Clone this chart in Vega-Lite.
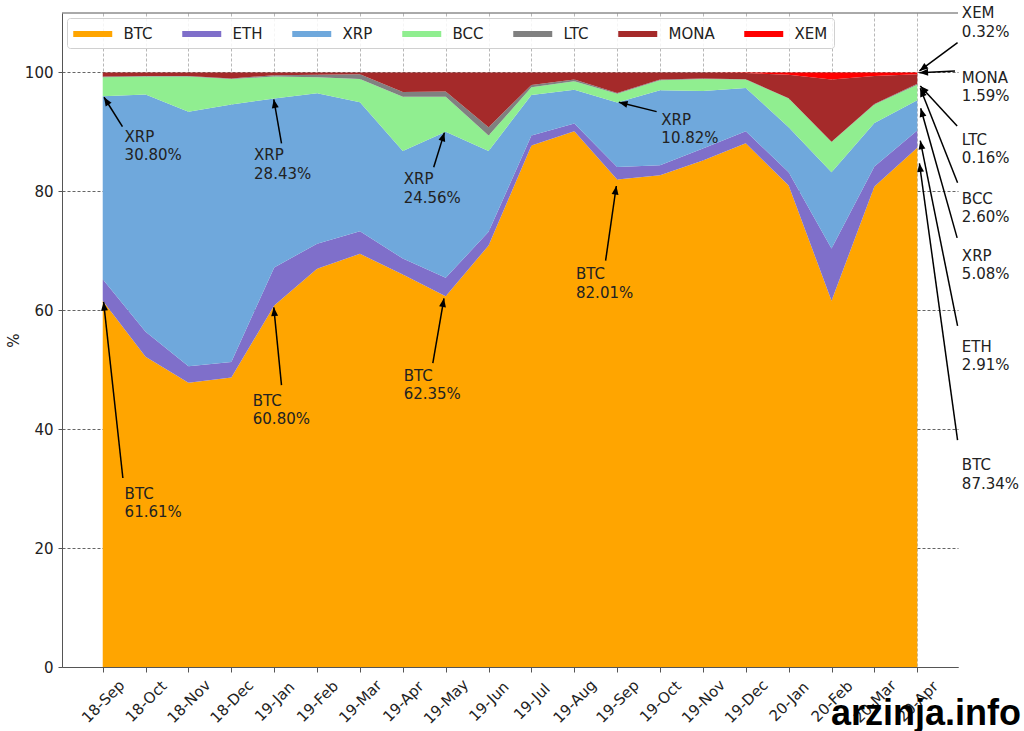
{
  "$schema": "https://vega.github.io/schema/vega-lite/v6.json",
  "width": 896,
  "height": 654,
  "autosize": {"type": "none"},
  "padding": {"left": 62, "top": 13, "right": 66, "bottom": 64},
  "background": "white",
  "config": {
    "font": "DejaVu Sans",
    "view": {"stroke": null},
    "axis": {
      "zindex": 1,
      "domainColor": "#555",
      "tickColor": "#555",
      "labelColor": "#222",
      "labelFontSize": 15,
      "titleFontSize": 15,
      "titleFontWeight": "normal",
      "titleColor": "#222",
      "gridDash": [3, 2],
      "gridWidth": 0.7
    },
    "legend": {
      "orient": "top-left",
      "direction": "horizontal",
      "offset": 5,
      "padding": 6,
      "fillColor": "rgba(255,255,255,0.85)",
      "strokeColor": "#d0d0d0",
      "cornerRadius": 3,
      "labelFontSize": 15,
      "labelColor": "#222",
      "columnPadding": 29,
      "labelOffset": 30.5,
      "symbolType": "M-1,-0.3L3,-0.3L3,0.3L-1,0.3Z",
      "symbolSize": 380,
      "symbolStrokeWidth": 0,
      "zindex": 2
    }
  },
  "datasets": {
    "share": [
      {"i": 0, "month": "18-Sep", "BTC": 61.61, "ETH": 3.6, "XRP": 30.80, "BCC": 3.2, "LTC": 0.1, "MONA": 0.69, "XEM": 0},
      {"i": 1, "month": "18-Oct", "BTC": 52.2, "ETH": 4.2, "XRP": 39.9, "BCC": 3.0, "LTC": 0.1, "MONA": 0.6, "XEM": 0},
      {"i": 2, "month": "18-Nov", "BTC": 47.8, "ETH": 2.8, "XRP": 42.8, "BCC": 5.9, "LTC": 0.1, "MONA": 0.6, "XEM": 0},
      {"i": 3, "month": "18-Dec", "BTC": 48.7, "ETH": 2.6, "XRP": 43.3, "BCC": 4.3, "LTC": 0.1, "MONA": 1.0, "XEM": 0},
      {"i": 4, "month": "19-Jan", "BTC": 60.80, "ETH": 6.4, "XRP": 28.43, "BCC": 3.7, "LTC": 0.2, "MONA": 0.47, "XEM": 0},
      {"i": 5, "month": "19-Feb", "BTC": 67.0, "ETH": 4.2, "XRP": 25.3, "BCC": 2.7, "LTC": 0.4, "MONA": 0.4, "XEM": 0},
      {"i": 6, "month": "19-Mar", "BTC": 69.5, "ETH": 3.8, "XRP": 21.7, "BCC": 3.9, "LTC": 0.8, "MONA": 0.3, "XEM": 0},
      {"i": 7, "month": "19-Apr", "BTC": 66.0, "ETH": 2.7, "XRP": 18.1, "BCC": 9.1, "LTC": 0.8, "MONA": 3.3, "XEM": 0},
      {"i": 8, "month": "19-May", "BTC": 62.35, "ETH": 3.1, "XRP": 24.56, "BCC": 5.9, "LTC": 0.9, "MONA": 3.19, "XEM": 0},
      {"i": 9, "month": "19-Jun", "BTC": 70.9, "ETH": 2.3, "XRP": 13.6, "BCC": 2.6, "LTC": 1.4, "MONA": 9.2, "XEM": 0},
      {"i": 10, "month": "19-Jul", "BTC": 87.7, "ETH": 1.7, "XRP": 6.8, "BCC": 1.3, "LTC": 0.4, "MONA": 2.1, "XEM": 0},
      {"i": 11, "month": "19-Aug", "BTC": 90.1, "ETH": 1.3, "XRP": 5.7, "BCC": 1.4, "LTC": 0.3, "MONA": 1.2, "XEM": 0},
      {"i": 12, "month": "19-Sep", "BTC": 82.01, "ETH": 2.1, "XRP": 10.82, "BCC": 1.5, "LTC": 0.1, "MONA": 3.47, "XEM": 0},
      {"i": 13, "month": "19-Oct", "BTC": 82.7, "ETH": 1.7, "XRP": 12.6, "BCC": 1.7, "LTC": 0.1, "MONA": 1.2, "XEM": 0},
      {"i": 14, "month": "19-Nov", "BTC": 85.2, "ETH": 2.0, "XRP": 9.7, "BCC": 2.0, "LTC": 0.1, "MONA": 1.0, "XEM": 0},
      {"i": 15, "month": "19-Dec", "BTC": 88.1, "ETH": 2.0, "XRP": 7.3, "BCC": 1.4, "LTC": 0.05, "MONA": 1.05, "XEM": 0.1},
      {"i": 16, "month": "20-Jan", "BTC": 81.0, "ETH": 2.2, "XRP": 7.6, "BCC": 4.8, "LTC": 0.05, "MONA": 3.95, "XEM": 0.4},
      {"i": 17, "month": "20-Feb", "BTC": 61.6, "ETH": 8.8, "XRP": 12.8, "BCC": 5.1, "LTC": 0.05, "MONA": 10.45, "XEM": 1.2},
      {"i": 18, "month": "20-Mar", "BTC": 80.8, "ETH": 3.4, "XRP": 7.3, "BCC": 3.1, "LTC": 0.1, "MONA": 4.7, "XEM": 0.6},
      {"i": 19, "month": "20-Apr", "BTC": 87.34, "ETH": 2.91, "XRP": 5.08, "BCC": 2.60, "LTC": 0.16, "MONA": 1.59, "XEM": 0.32}
    ],
    "notes": [
      {"label": "XRP\n30.80%", "x": 0.03, "y": 95.83, "ax": 0.46, "ay": 90.88, "tx": 0.51, "ty": 90.33},
      {"label": "BTC\n61.61%", "x": 0.02, "y": 61.40, "ax": 0.47, "ay": 31.79, "tx": 0.51, "ty": 30.28},
      {"label": "XRP\n28.43%", "x": 3.99, "y": 95.49, "ax": 4.17, "ay": 88.09, "tx": 3.53, "ty": 87.25},
      {"label": "BTC\n60.80%", "x": 3.99, "y": 60.49, "ax": 4.17, "ay": 47.42, "tx": 3.50, "ty": 45.92},
      {"label": "XRP\n24.56%", "x": 7.97, "y": 89.88, "ax": 7.72, "ay": 84.04, "tx": 7.02, "ty": 83.21},
      {"label": "BTC\n62.35%", "x": 7.96, "y": 62.01, "ax": 7.70, "ay": 51.09, "tx": 7.02, "ty": 50.13},
      {"label": "XRP\n10.82%", "x": 12.04, "y": 95.00, "ax": 12.92, "ay": 93.41, "tx": 13.03, "ty": 93.19},
      {"label": "BTC\n82.01%", "x": 11.98, "y": 80.90, "ax": 11.73, "ay": 68.34, "tx": 11.04, "ty": 67.23},
      {"label": "XEM\n0.32%", "x": 19.05, "y": 100.25, "ax": 19.94, "ay": 105.02, "tx": 20.04, "ty": 111.13},
      {"label": "MONA\n1.59%", "x": 19.05, "y": 99.97, "ax": 19.88, "ay": 100.25, "tx": 20.04, "ty": 100.30},
      {"label": "LTC\n0.16%", "x": 19.07, "y": 97.72, "ax": 19.93, "ay": 91.00, "tx": 20.04, "ty": 89.87},
      {"label": "BCC\n2.60%", "x": 19.07, "y": 97.34, "ax": 19.94, "ay": 81.46, "tx": 20.04, "ty": 79.95},
      {"label": "XRP\n5.08%", "x": 19.08, "y": 93.97, "ax": 19.93, "ay": 72.17, "tx": 20.04, "ty": 70.31},
      {"label": "ETH\n2.91%", "x": 19.07, "y": 88.53, "ax": 19.94, "ay": 57.36, "tx": 20.04, "ty": 55.05},
      {"label": "BTC\n87.34%", "x": 19.05, "y": 84.72, "ax": 19.94, "ay": 38.17, "tx": 20.04, "ty": 35.10}
    ]
  },
  "layer": [
    {
      "data": {"name": "share"},
      "transform": [
        {"fold": ["BTC", "ETH", "XRP", "BCC", "LTC", "MONA", "XEM"], "as": ["coin", "pct"]},
        {"calculate": "indexof(['BTC', 'ETH', 'XRP', 'BCC', 'LTC', 'MONA', 'XEM'], datum.coin)", "as": "k"}
      ],
      "mark": {"type": "area", "opacity": 1},
      "encoding": {
        "x": {
          "field": "i",
          "type": "quantitative",
          "scale": {"domain": [-0.95, 19.95], "nice": false, "zero": false},
          "axis": {
            "title": null,
            "values": [0, 1, 2, 3, 4, 5, 6, 7, 8, 9, 10, 11, 12, 13, 14, 15, 16, 17, 18, 19],
            "labelExpr": "['18-Sep','18-Oct','18-Nov','18-Dec','19-Jan','19-Feb','19-Mar','19-Apr','19-May','19-Jun','19-Jul','19-Aug','19-Sep','19-Oct','19-Nov','19-Dec','20-Jan','20-Feb','20-Mar','20-Apr'][datum.value]",
            "labelAngle": -45,
            "labelAlign": "center",
            "labelBaseline": "middle",
            "labelPadding": 29,
            "labelOverlap": false,
            "labelFlush": false,
            "labelBound": false,
            "tickSize": 5,
            "gridColor": "#9a9a9a"
          }
        },
        "y": {
          "field": "pct",
          "type": "quantitative",
          "stack": "zero",
          "scale": {"domain": [0, 110], "nice": false},
          "axis": {
            "title": "%",
            "values": [0, 20, 40, 60, 80, 100],
            "tickSize": 4,
            "labelPadding": 5,
            "titlePadding": 3,
            "gridColor": "#222"
          }
        },
        "order": {"field": "k", "type": "quantitative"},
        "color": {
          "field": "coin",
          "type": "nominal",
          "sort": ["BTC", "ETH", "XRP", "BCC", "LTC", "MONA", "XEM"],
          "scale": {
            "domain": ["BTC", "ETH", "XRP", "BCC", "LTC", "MONA", "XEM"],
            "range": ["#ffa500", "#7f6fca", "#6fa8dc", "#90ee90", "#808080", "#a52a2a", "#ff0000"]
          },
          "legend": {"title": null}
        }
      }
    },
    {
      "data": {"values": [{}]},
      "mark": {"type": "rule", "color": "#555", "strokeWidth": 1},
      "encoding": {"y": {"datum": 110, "type": "quantitative"}}
    },
    {
      "data": {"name": "notes"},
      "mark": {"type": "rule", "color": "black", "strokeWidth": 1.5},
      "encoding": {
        "x": {"field": "ax", "type": "quantitative"},
        "y": {"field": "ay", "type": "quantitative"},
        "x2": {"field": "x"},
        "y2": {"field": "y"}
      }
    },
    {
      "data": {"name": "notes"},
      "transform": [
        {"calculate": "atan2((datum.x - datum.ax) * 42.9, (datum.y - datum.ay) * 5.945) * 180 / PI", "as": "ang"}
      ],
      "mark": {"type": "point", "shape": "M0,0L-0.4,1L0.4,1Z", "filled": true, "color": "black", "opacity": 1, "size": 300},
      "encoding": {
        "x": {"field": "x", "type": "quantitative"},
        "y": {"field": "y", "type": "quantitative"},
        "angle": {"field": "ang", "type": "quantitative", "scale": null}
      }
    },
    {
      "data": {"name": "notes"},
      "mark": {"type": "text", "align": "left", "baseline": "top", "fontSize": 15, "lineHeight": 18.5, "lineBreak": "\n", "color": "#222"},
      "encoding": {
        "x": {"field": "tx", "type": "quantitative"},
        "y": {"field": "ty", "type": "quantitative"},
        "text": {"field": "label"}
      }
    },
    {
      "data": {"values": [{}]},
      "mark": {"type": "text", "align": "right", "baseline": "alphabetic", "font": "Liberation Sans", "fontSize": 36, "fontWeight": "bold", "color": "black"},
      "encoding": {
        "x": {"datum": 21.42, "type": "quantitative"},
        "y": {"datum": -9.76, "type": "quantitative"},
        "text": {"value": "arzinja.info"}
      }
    }
  ]
}
